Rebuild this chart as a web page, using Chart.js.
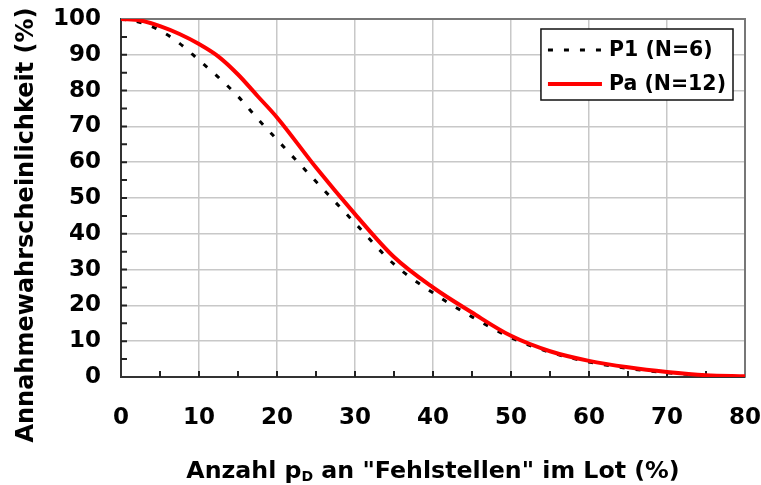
<!DOCTYPE html>
<html>
<head>
<meta charset="utf-8">
<script src="https://cdn.jsdelivr.net/npm/chart.js@4"></script>
<style>
html, body { margin: 0; padding: 0; background: #fff; }
#wrap { width: 761px; height: 485px; position: relative; }
</style>
</head>
<body>
<div id="wrap"><canvas id="myChart"></canvas></div>
<script>
// values

const pdValues = [0, 2.5, 5, 7.5, 10, 12.5, 15, 17.5, 20, 25, 30, 35, 40, 45, 50, 55, 60, 65, 70, 75, 80]
const p1Values = [100, 99, 96.8, 93.2, 88.5, 83.7, 78.4, 72.2, 66.3, 54.6, 43, 31.5, 23.5, 16.8, 11, 6.9, 4.2, 2.4, 1.2, 0.4, 0.1]
const paValues = [100, 99.6, 98, 95.8, 93, 89.5, 84.5, 78.5, 72.5, 58.5, 45.5, 33.5, 25, 18, 11.5, 7.2, 4.5, 2.7, 1.4, 0.5, 0.2]

const p1Label = 'P1 (N=6)'
const paLabel = 'Pa (N=12)'
const yTitle = 'Annahmewahrscheinlichkeit (%)'
const xTitleParts = ['Anzahl p', 'D', ' an "Fehlstellen" im Lot (%)']
const minorStep = 5

const fontFamily = '"DejaVu Sans", Arial, sans-serif'

// extra drawing: frame, inner ticks, legend box, axis titles
const extras = {
    id: 'extras',
    beforeDatasetsDraw(chart) {
        const c = chart.ctx
        const area = chart.chartArea
        const xs = chart.scales.x
        const ys = chart.scales.y
        c.save()
        c.strokeStyle = '#777'
        c.lineWidth = 2
        c.beginPath()
        c.moveTo(area.left, area.top)
        c.lineTo(area.right, area.top)
        c.lineTo(area.right, area.bottom)
        c.stroke()

        c.strokeStyle = '#222'
        c.lineWidth = 2
        c.beginPath()
        for (let v = xs.min + minorStep; v < xs.max; v += minorStep) {
            const px = xs.getPixelForValue(v)
            c.moveTo(px, area.bottom)
            c.lineTo(px, area.bottom - 6)
        }
        for (let v = ys.min + minorStep; v < ys.max; v += minorStep) {
            const py = ys.getPixelForValue(v)
            c.moveTo(area.left, py)
            c.lineTo(area.left + 6, py)
        }
        c.stroke()
        c.restore()
    },
    afterDraw(chart) {
        const c = chart.ctx
        const area = chart.chartArea
        const sets = chart.data.datasets
        c.save()

        // legend
        c.font = 'bold 20.5px ' + fontFamily
        let maxW = 0
        sets.forEach(ds => { maxW = Math.max(maxW, c.measureText(ds.label).width) })
        const boxW = 7 + 54 + 7 + maxW + 7
        const boxH = 71
        const boxR = area.right - 12
        const boxT = area.top + 10
        const boxL = boxR - boxW
        c.fillStyle = '#fff'
        c.fillRect(boxL, boxT, boxW, boxH)
        c.strokeStyle = '#111'
        c.lineWidth = 1.5
        c.strokeRect(boxL, boxT, boxW, boxH)
        sets.forEach((ds, i) => {
            const y = boxT + 21 + i * 34
            c.beginPath()
            c.strokeStyle = ds.borderColor
            c.lineWidth = ds.borderWidth
            c.setLineDash(ds.borderDash || [])
            c.moveTo(boxL + 7, y)
            c.lineTo(boxL + 61, y)
            c.stroke()
            c.setLineDash([])
            c.fillStyle = '#000'
            c.textAlign = 'left'
            c.textBaseline = 'middle'
            c.fillText(ds.label, boxL + 68, y + 1)
        })

        // y title
        c.fillStyle = '#000'
        c.font = 'bold 24px ' + fontFamily
        c.textAlign = 'center'
        c.textBaseline = 'alphabetic'
        c.translate(33, 225)
        c.rotate(-Math.PI / 2)
        c.fillText(yTitle, 0, 0)
        c.setTransform(1, 0, 0, 1, 0, 0)

        // x title with subscript
        const big = 'bold 23.7px ' + fontFamily
        const small = 'bold 14px ' + fontFamily
        c.textAlign = 'left'
        c.font = big
        const w1 = c.measureText(xTitleParts[0]).width
        const w3 = c.measureText(xTitleParts[2]).width
        c.font = small
        const w2 = c.measureText(xTitleParts[1]).width
        const total = w1 + w2 + w3
        let x = (area.left + area.right) / 2 - total / 2
        const base = chart.height - 7
        c.font = big
        c.fillText(xTitleParts[0], x, base)
        x += w1
        c.font = small
        c.fillText(xTitleParts[1], x, base + 3)
        x += w2
        c.font = big
        c.fillText(xTitleParts[2], x, base)
        c.restore()
    }
}

const ctx = document.querySelector('#myChart').getContext('2d')

let chart = new Chart(ctx, {
    type: 'line',
    data: {
        datasets: [{
            label: p1Label,
            data: pdValues.map((x, i) => ({ x: x, y: p1Values[i] })),
            borderColor: '#000',
            borderWidth: 3,
            borderDash: [5, 11],
            pointRadius: 0,
            fill: false,
            cubicInterpolationMode: 'monotone',
            order: 2
        }, {
            label: paLabel,
            data: pdValues.map((x, i) => ({ x: x, y: paValues[i] })),
            borderColor: '#ff0000',
            borderWidth: 4,
            pointRadius: 0,
            fill: false,
            cubicInterpolationMode: 'monotone',
            order: 1
        }]
    },
    options: {
        responsive: true,
        maintainAspectRatio: false,
        animation: false,
        layout: { padding: { top: 19, right: 16, left: 0, bottom: 0 } },
        plugins: {
            legend: { display: false },
            tooltip: { enabled: false }
        },
        scales: {
            x: {
                type: 'linear',
                min: 0,
                max: 80,
                ticks: {
                    stepSize: 10,
                    color: '#000',
                    padding: 27,
                    maxRotation: 0,
                    font: { family: fontFamily, size: 23, weight: 'bold' }
                },
                grid: { color: '#c8c8c8', lineWidth: 1.5, drawTicks: false },
                border: { color: '#333', width: 2 },
                afterFit(scale) {
                    scale.height = 108
                    scale.paddingLeft = 0
                    scale.paddingRight = 0
                }
            },
            y: {
                min: 0,
                max: 100,
                ticks: {
                    stepSize: 10,
                    color: '#000',
                    padding: 20,
                    font: { family: fontFamily, size: 23, weight: 'bold' }
                },
                grid: { color: '#c8c8c8', lineWidth: 1.5, drawTicks: false },
                border: { color: '#333', width: 2 },
                afterFit(scale) {
                    scale.width = 121
                    scale.paddingTop = 0
                    scale.paddingBottom = 0
                }
            }
        }
    },
    plugins: [extras]
})
</script>
</body>
</html>
